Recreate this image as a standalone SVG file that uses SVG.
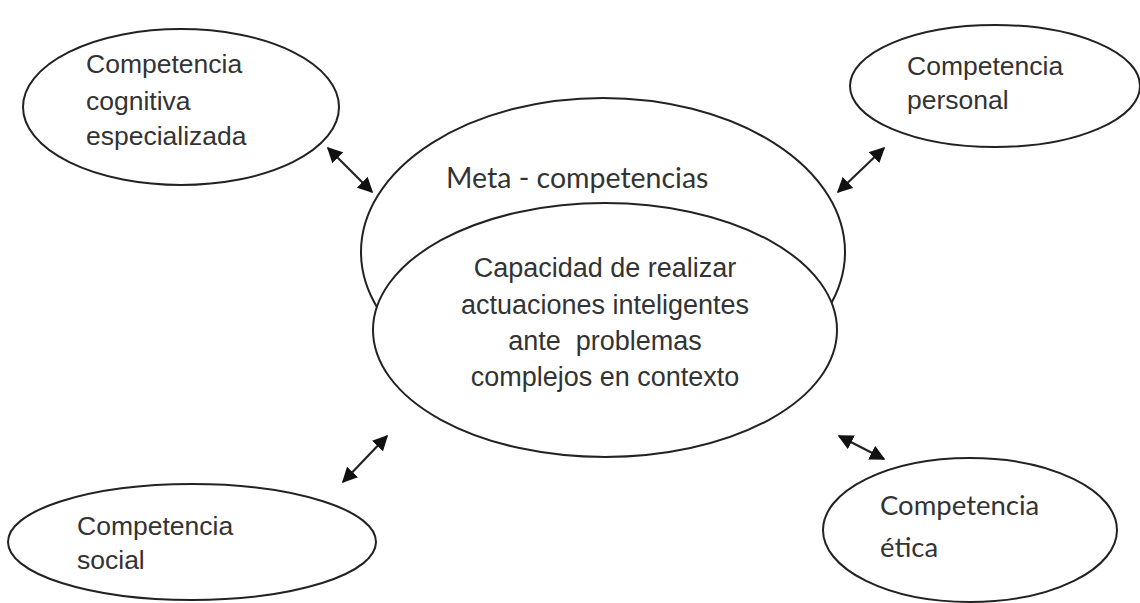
<svg xmlns="http://www.w3.org/2000/svg" width="1140" height="603" viewBox="0 0 1140 603">
<style>
.shape{fill:#fff;stroke:#222;stroke-width:2}
.ar{font-family:'Liberation Sans',Arial,Helvetica,sans-serif;font-size:26.5px;fill:#333}
.mid{font-size:27px}
.cal{font-family:Lato,'Open Sans',sans-serif;font-size:27.5px;fill:#333}
.conn{stroke:#222;stroke-width:2.2;fill:none;marker-start:url(#ah);marker-end:url(#ah)}
</style>
<defs>
<marker id="ah" viewBox="0 0 10 10" refX="9" refY="5" markerWidth="7" markerHeight="7" orient="auto-start-reverse" markerUnits="strokeWidth">
<path d="M0,0 L10,5 L0,10 z" fill="#111"/>
</marker>
</defs>
<rect width="1140" height="603" fill="#fff"/>
<g id="n-cognitiva">
<ellipse class="shape" cx="181" cy="107" rx="158" ry="78"/>
<text class="ar" x="86" y="73">Competencia</text>
<text class="ar" x="86" y="110">cognitiva</text>
<text class="ar" x="86" y="145">especializada</text>
</g>
<g id="n-personal">
<ellipse class="shape" cx="995" cy="86" rx="145" ry="61"/>
<text class="ar" x="907" y="75">Competencia</text>
<text class="ar" x="907" y="109">personal</text>
</g>
<g id="n-social">
<ellipse class="shape" cx="192" cy="542" rx="184" ry="58"/>
<text class="ar" x="77" y="535">Competencia</text>
<text class="ar" x="77" y="569">social</text>
</g>
<g id="n-etica">
<ellipse class="shape" cx="970" cy="530" rx="147" ry="72"/>
<text class="cal" x="880" y="515">Competencia</text>
<text class="cal" x="880" y="557">ética</text>
</g>
<g id="n-meta">
<ellipse class="shape" cx="603" cy="252" rx="242" ry="154"/>
<text class="cal" x="446" y="188" style="font-size:28.5px">Meta - competencias</text>
</g>
<g id="n-capacidad">
<ellipse class="shape" cx="605" cy="330" rx="232" ry="127"/>
<text class="ar mid" x="605" y="277" text-anchor="middle">Capacidad de realizar</text>
<text class="ar mid" x="605" y="314" text-anchor="middle">actuaciones inteligentes</text>
<text class="ar mid" x="605" y="350" text-anchor="middle" xml:space="preserve">ante  problemas</text>
<text class="ar mid" x="605" y="386" text-anchor="middle">complejos en contexto</text>
</g>
<g id="connectors">
<line class="conn" x1="328" y1="148" x2="372" y2="192"/>
<line class="conn" x1="884" y1="148" x2="838" y2="192"/>
<line class="conn" x1="387" y1="436" x2="343" y2="482"/>
<line class="conn" x1="839" y1="436" x2="884" y2="459"/>
</g>
</svg>
